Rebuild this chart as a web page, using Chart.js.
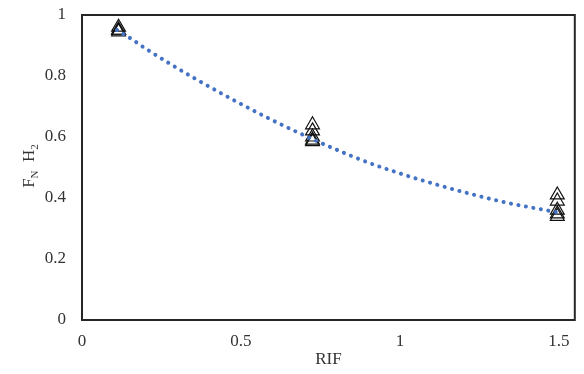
<!DOCTYPE html>
<html>
<head>
<meta charset="utf-8">
<script src="https://cdn.jsdelivr.net/npm/chart.js@4.4.0/dist/chart.umd.min.js"></script>
<style>
  html, body { margin: 0; padding: 0; background: #fff; }
  #wrap { width: 584px; height: 374px; }
</style>
</head>
<body>
<div id="wrap"><canvas id="chart" width="584" height="374"></canvas></div>
<script>
// data
const rifLeft = [0.115, 0.115, 0.115, 0.115];
const fnLeft = [0.96, 0.95, 0.95, 0.945];
const rifMid = [0.725, 0.725, 0.725, 0.725, 0.725];
const fnMid = [0.64, 0.62, 0.60, 0.59, 0.585];
const rifRight = [1.495, 1.495, 1.495, 1.495, 1.495];
const fnRight = [0.41, 0.39, 0.36, 0.348, 0.34];

// dotted trend line
const trendX = [0.11, 0.156, 0.197, 0.353, 0.578, 0.766, 0.93, 1.30, 1.49];
const trendY = [0.951, 0.921, 0.892, 0.793, 0.666, 0.574, 0.505, 0.393, 0.354];

const xTicks = [0, 0.5, 1, 1.5];
const yTicks = [0, 0.2, 0.4, 0.6, 0.8, 1];

const FONT = "'Liberation Serif', 'Times New Roman', serif";
const TXT = "#333";

function pts(xs, ys) {
  return xs.map((x, i) => ({ x: x, y: ys[i] }));
}

const scatterPts = pts(rifLeft, fnLeft)
  .concat(pts(rifMid, fnMid))
  .concat(pts(rifRight, fnRight));

// frame + y title with subscripts
const framePlugin = {
  id: "frame",
  afterDraw(chart) {
    const { ctx, chartArea: a } = chart;
    ctx.save();
    ctx.strokeStyle = "#262626";
    ctx.lineWidth = 2;
    ctx.strokeRect(a.left, a.top, a.right - a.left, a.bottom - a.top);
    ctx.restore();

    // "F_N H_2"
    ctx.save();
    ctx.translate(29, 166);
    ctx.rotate(-Math.PI / 2);
    ctx.fillStyle = TXT;
    ctx.textBaseline = "alphabetic";
    const parts = [
      ["F", 17, 0],
      ["N", 11, 4],
      ["  H", 17, 0],
      ["2", 11, 4],
    ];
    let w = 0;
    for (const [t, s] of parts) {
      ctx.font = s + "px " + FONT;
      w += ctx.measureText(t).width;
    }
    let x = -w / 2;
    for (const [t, s, dy] of parts) {
      ctx.font = s + "px " + FONT;
      ctx.fillText(t, x, 5 + dy);
      x += ctx.measureText(t).width;
    }
    ctx.restore();
  },
};

new Chart(document.getElementById("chart"), {
  type: "scatter",
  data: {
    datasets: [
      {
        type: "line",
        label: "trend",
        data: pts(trendX, trendY),
        borderColor: "#4472C4",
        borderWidth: 4,
        borderDash: [0.1, 7.5],
        borderCapStyle: "round",
        pointRadius: 0,
        cubicInterpolationMode: "monotone",
        fill: false,
      },
      {
        label: "FN H2",
        data: scatterPts,
        pointStyle: "triangle",
        pointRadius: 8,
        pointBackgroundColor: "rgba(255,255,255,0)",
        pointBorderColor: "#111",
        pointBorderWidth: 1.2,
        showLine: false,
      },
    ],
  },
  options: {
    responsive: false,
    animation: false,
    layout: { padding: { left: 0, right: 4, top: 15, bottom: 0 } },
    plugins: { legend: { display: false }, tooltip: { enabled: false } },
    scales: {
      x: {
        type: "linear",
        min: 0,
        max: 1.55,
        afterBuildTicks: (s) => { s.ticks = xTicks.map((v) => ({ value: v })); },
        grid: { display: false, drawTicks: false },
        border: { display: false },
        ticks: {
          color: TXT,
          font: { family: FONT, size: 17 },
          padding: 11,
          maxRotation: 0,
          callback: (v) => String(v),
        },
        title: {
          display: true,
          text: "RIF",
          color: TXT,
          font: { family: FONT, size: 17 },
          padding: { top: 2 },
        },
        afterFit: (s) => {
          s.height = 54;
          s.paddingLeft = 0;
          s.paddingRight = 0;
        },
      },
      y: {
        min: 0,
        max: 1,
        afterBuildTicks: (s) => { s.ticks = yTicks.map((v) => ({ value: v })); },
        grid: { display: false, drawTicks: false },
        border: { display: false },
        ticks: {
          color: TXT,
          font: { family: FONT, size: 17 },
          padding: 16,
          callback: (v) => String(v),
        },
        afterFit: (s) => {
          s.width = 82;
          s.paddingTop = 0;
          s.paddingBottom = 0;
        },
      },
    },
  },
  plugins: [framePlugin],
});
</script>
</body>
</html>
